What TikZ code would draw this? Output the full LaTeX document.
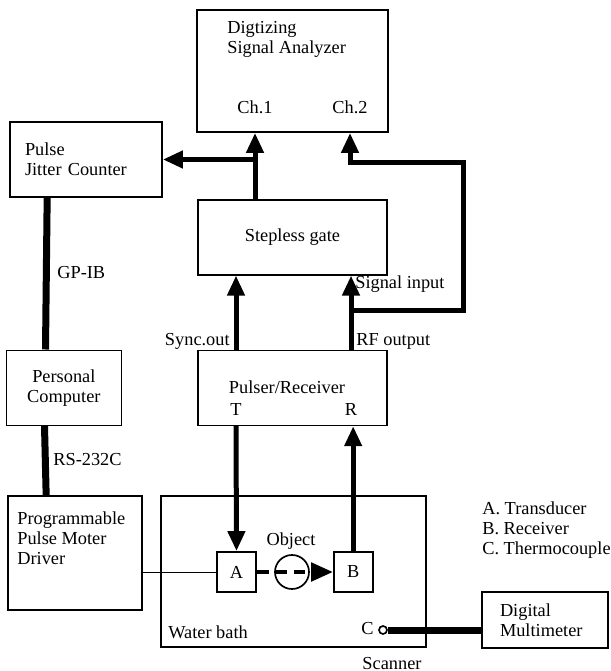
\documentclass[tikz,border=0pt]{standalone}
\usepackage{fontspec}
\setmainfont{Liberation Serif}
\usetikzlibrary{arrows.meta,positioning}
\tikzset{
  unit/.style={draw, line width=1pt, inner sep=0pt},
  txt/.style={inner sep=0pt, align=left},
  probe/.style={unit, minimum width=23.4pt, minimum height=24pt},
  sig/.style={line width=3pt, -{Triangle[length=12pt,width=10pt]}},
  bus/.style={line width=4.2pt},
  ctrl/.style={line width=0.6pt},
  beam/.style={line width=2.4pt, dash pattern=on 7pt off 4pt, -{Triangle[length=13pt,width=11pt]}}
}
\begin{document}
\begin{tikzpicture}[x=0.6pt, y=-0.6pt, font=\fontsize{11}{12}\selectfont, node distance=39.6pt]
  \useasboundingbox (0,0) rectangle (611,671);
  \node[unit, minimum width=114.6pt, minimum height=73.2pt] (dsa) at (292.5,71) {};
  \node[txt, anchor=north west] (dsatxt) at (227,21) {Digtizing\\Signal Analyzer};
  \node[txt, anchor=base] (ch1) at (255,113) {Ch.1};
  \node[txt, anchor=base] (ch2) at (350,113) {Ch.2};
  \node[unit, minimum width=113.4pt, minimum height=45pt, below=of dsa] (gate) {Stepless gate};
  \node[unit, minimum width=113.4pt, minimum height=45pt, below=44.4pt of gate] (pulser) {};
  \node[txt, anchor=base] (pulsertxt) at (287,393) {Pulser/Receiver};
  \node[txt, anchor=base] (tport) at (236,415) {T};
  \node[txt, anchor=base] (rport) at (351,415) {R};
  \node[unit, text width=73.2pt, inner xsep=9pt, minimum height=45pt] (jitter) at (86,159.5) {Pulse\\Jitter Counter};
  \node[unit, align=center, minimum width=69pt, minimum height=45pt, left=45pt of pulser] (pc) {Personal\\Computer};
  \node[unit, minimum width=80.4pt, minimum height=68.4pt] (drv) at (75,553) {};
  \node[txt, anchor=north west] (drvtxt) at (17,511) {Programmable\\Pulse Moter\\Driver};
  \node[unit, minimum width=159pt, minimum height=90.6pt] (bath) at (293.5,571.5) {};
  \node[txt, anchor=base west] (bathtxt) at (168,638) {Water bath};
  \node[txt, anchor=base] (scanner) at (392,669) {Scanner};
  \node[probe] (pa) at (236.5,572) {A};
  \node[probe, right=45.6pt of pa] (pb) {B};
  \node[draw, circle, line width=1pt, minimum size=20.4pt, inner sep=0pt] (obj) at (292,572) {};
  \node[txt, anchor=base] (objtxt) at (291,545) {Object};
  \node[draw, circle, line width=1pt, minimum size=4.8pt, inner sep=0pt] (tc) at (383,630) {};
  \node[txt, anchor=base east] (tctxt) at (374,634) {C};
  \node[unit, text width=54pt, inner xsep=10.8pt, minimum height=33.6pt] (dmm) at (545,620) {Digital\\Multimeter};
  \node[txt, anchor=north west] (legend) at (482,501) {A. Transducer\\B. Receiver\\C. Thermocouple};
  \node[txt, anchor=base west] (gpib) at (57,278) {GP-IB};
  \node[txt, anchor=base west] (rs) at (53,465) {RS-232C};
  \node[txt, anchor=base east] (syncout) at (230,345) {Sync.out};
  \node[txt, anchor=base west] (rfout) at (356,345) {RF output};
  \node[txt, anchor=base west] (sigin) at (355,288) {Signal input};
  \coordinate (loopbr) at (463,310);
  \coordinate (looptr) at (463,162);

  \draw[sig] (tport |- pulser.north) -- (tport |- gate.south);
  \draw[sig] (rport |- pulser.north) -- (rport |- gate.south);
  \draw[sig] (ch1 |- gate.north) -- (ch1 |- dsa.south);
  \draw[sig] (ch1 |- jitter.east) -- (jitter.east);
  \draw[sig] (rport |- loopbr) -- (loopbr) -- (looptr) -| (ch2 |- dsa.south);
  \draw[sig] (tport |- pulser.south) -- (pa.north);
  \draw[sig] (pb.north) -- (pb |- pulser.south);
  \draw[bus] ([xshift=22.8pt]jitter.south west) -- ([xshift=24pt]pc.north west);
  \draw[bus] ([xshift=23.4pt]pc.south west) -- ([xshift=23.4pt]drv.north west);
  \draw[ctrl] (drv.east |- pa.west) -- (pa.west);
  \draw[beam] (pa.east) -- (pb.west);
  \draw[bus] (tc.east) -- (tc -| dmm.west);
\end{tikzpicture}
\end{document}
